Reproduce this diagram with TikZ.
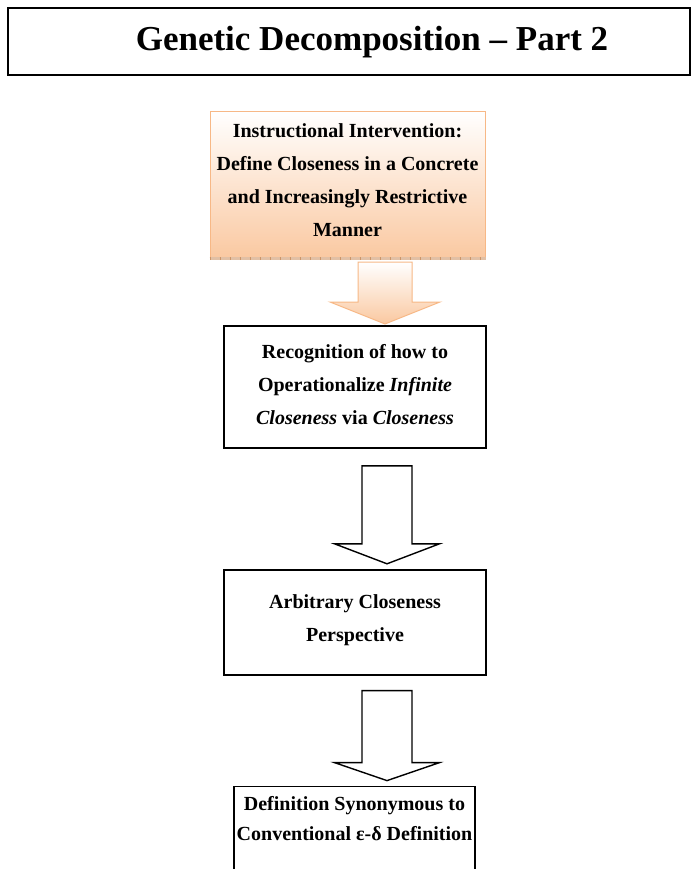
\documentclass[tikz,border=0pt]{standalone}
\usepackage{fontspec}
\setmainfont{Liberation Serif}
\usetikzlibrary{positioning}

\definecolor{peach}{RGB}{250,200,160}
\definecolor{peachline}{RGB}{247,184,134}
\definecolor{peachshadow}{RGB}{205,150,105}

\begin{document}
\begin{tikzpicture}[x=1pt,y=1pt,
  boxfont/.style={font=\fontsize{20}{33}\selectfont\bfseries},
  flowbox/.style={draw, line width=1.8pt, minimum width=262pt, align=center, inner sep=0pt, boxfont},
  orangebox/.style={draw=peachline, line width=1pt, top color=white, bottom color=peach},
  blockarrow/.style={draw, line width=1.4pt, fill=white, line join=miter}
]

\useasboundingbox (0,0) rectangle (694,-869);
\clip (0,0) rectangle (694,-869);

\node[draw,
    line width=2pt,
    minimum width=682pt,
    minimum height=67pt,
    inner sep=0pt
] (title) at (349,-41.5) {};

\node[font=\fontsize{35}{40}\selectfont\bfseries, inner sep=0pt] (titletext) at (372,-42) {Genetic Decomposition – Part 2};

\node[flowbox, orangebox,
    below=35pt of title,
    xshift=-1.5pt,
    minimum width=275pt,
    minimum height=148pt
] (block1) {Instructional Intervention:\\Define Closeness in a Concrete\\and Increasingly Restrictive\\Manner\rule[-10pt]{0pt}{0pt}};

% shadow along the lower edge
\draw[peachshadow!60, line width=3pt] ([yshift=1.5pt]block1.south west) -- ([yshift=1.5pt]block1.south east);
\draw[peachshadow, line width=3pt, dash pattern=on 1pt off 9pt] ([yshift=1.5pt]block1.south west) -- ([yshift=1.5pt]block1.south east);

\node[flowbox,
    below=65pt of block1,
    xshift=7.5pt,
    minimum height=122pt
] (block2) {Recognition of how to\\Operationalize \textit{Infinite}\\\textit{Closeness} via \textit{Closeness}\rule[-4pt]{0pt}{0pt}};

\node[flowbox,
    below=120pt of block2,
    minimum height=105pt
] (block3) {Arbitrary Closeness\\Perspective\rule[-8pt]{0pt}{0pt}};

\node[flowbox,
    below=110pt of block3,
    xshift=-0.5pt,
    minimum width=241pt,
    minimum height=130pt
] (block4) {};

\node[boxfont, align=center, inner sep=0pt,
    below=11pt of block4.north
] (block4text) {Definition Synonymous to\\[-3pt]Conventional ε-δ Definition};

% block arrows between the boxes
\coordinate (arr1) at ([xshift=37.5pt,yshift=-2pt]block1.south);
\coordinate (arr2) at ([xshift=32pt,yshift=-17pt]block2.south);
\coordinate (arr3) at ([xshift=32pt,yshift=-15pt]block3.south);

\draw[orangebox, line join=miter] (arr1) ++(-27,0) -- ++(0,-40) -- ++(-28,0) -- ++(55,-22)
    -- ++(55,22) -- ++(-28,0) -- ++(0,40) -- cycle;

\draw[blockarrow] (arr2) ++(-25,0) -- ++(0,-78) -- ++(-27.5,0) -- ++(52.5,-20)
    -- ++(52.5,20) -- ++(-27.5,0) -- ++(0,78) -- cycle;

\draw[blockarrow] (arr3) ++(-25,0) -- ++(0,-72) -- ++(-27.5,0) -- ++(52.5,-18)
    -- ++(52.5,18) -- ++(-27.5,0) -- ++(0,72) -- cycle;

\end{tikzpicture}
\end{document}
